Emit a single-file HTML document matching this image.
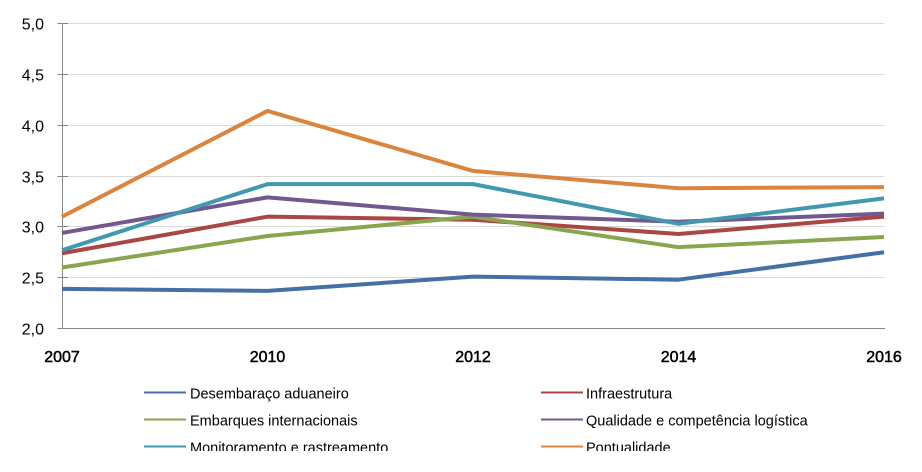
<!DOCTYPE html>
<html lang="pt">
<head>
<meta charset="utf-8">
<title>Gráfico de linhas</title>
<style>
html,body{margin:0;padding:0;background:#fff;}
#chart-wrap{position:relative;width:922px;height:472px;overflow:hidden;background:#fff;}
svg{display:block;}
text{font-family:"Liberation Sans",sans-serif;fill:#000;}
</style>
</head>
<body>
<div id="chart-wrap">
<svg id="chart" width="922" height="472" viewBox="0 0 922 472" xmlns="http://www.w3.org/2000/svg"></svg>
</div>
<script>
const categories = ['2007', '2010', '2012', '2014', '2016'];
const yTicks = [2.0, 2.5, 3.0, 3.5, 4.0, 4.5, 5.0];
const yTickLabels = ['2,0', '2,5', '3,0', '3,5', '4,0', '4,5', '5,0'];
const seriesNames = ['Desembaraço aduaneiro', 'Infraestrutura', 'Embarques internacionais', 'Qualidade e competência logística', 'Monitoramento e rastreamento', 'Pontualidade'];
const desembaraco = [2.39, 2.37, 2.51, 2.48, 2.75];
const infraestrutura = [2.74, 3.10, 3.07, 2.93, 3.10];
const embarques = [2.60, 2.91, 3.10, 2.80, 2.90];
const qualidade = [2.94, 3.29, 3.12, 3.05, 3.13];
const monitoramento = [2.77, 3.42, 3.42, 3.03, 3.28];
const pontualidade = [3.10, 4.14, 3.55, 3.38, 3.39];

const seriesValues = [desembaraco, infraestrutura, embarques, qualidade, monitoramento, pontualidade];
const seriesColors = ['#4470a6', '#aa4643', '#89a54e', '#71588f', '#4198af', '#db843d'];
const seriesSlugs = ['desembaraco', 'infraestrutura', 'embarques', 'qualidade', 'monitoramento', 'pontualidade'];

const NS = 'http://www.w3.org/2000/svg';
const svg = document.getElementById('chart');
const plot = {left: 62, right: 884, top: 23.5, bottom: 328.5};

function xScale(i) {
  return plot.left + (plot.right - plot.left) * i / (categories.length - 1);
}
function yScale(v) {
  return plot.bottom - (v - 2) / 3 * (plot.bottom - plot.top);
}
function make(tag, attrs) {
  const el = document.createElementNS(NS, tag);
  for (const k in attrs) el.setAttribute(k, attrs[k]);
  svg.appendChild(el);
  return el;
}

// gridlines and y ticks
yTicks.forEach(function (t, i) {
  const y = Math.round(yScale(t) - 0.5) + 0.5;
  if (i > 0) {
    const g = make('line', {x1: plot.left, x2: plot.right, y1: y, y2: y, stroke: '#d9d9d9', 'stroke-width': 1});
    
    
  }
  const tick = make('line', {x1: 57.5, x2: 68, y1: y, y2: y, stroke: '#868686', 'stroke-width': 1});
  
  
  const lab = make('text', {x: 44, y: y + 6, 'text-anchor': 'end', 'font-size': 16});
  lab.textContent = yTickLabels[i];
  
  
});

// axes
const yAxis = make('line', {x1: 62.5, x2: 62.5, y1: 23, y2: 329, stroke: '#868686', 'stroke-width': 1});


const xAxis = make('line', {x1: 62, x2: 885, y1: 328.5, y2: 328.5, stroke: '#868686', 'stroke-width': 1});



// x labels
categories.forEach(function (c, i) {
  const lab = make('text', {x: xScale(i), y: 362, 'text-anchor': 'middle', 'font-size': 16, stroke: '#000', 'stroke-width': 0.5});
  lab.textContent = c;
  
  
});

// series
seriesValues.forEach(function (vals, s) {
  const pts = vals.map(function (v, i) { return xScale(i) + ',' + yScale(v).toFixed(2); }).join(' ');
  const line = make('polyline', {points: pts, fill: 'none', stroke: seriesColors[s], 'stroke-width': 4, 'stroke-linejoin': 'round', 'stroke-linecap': 'butt'});
  
  
});

// legend
const legendX = [144, 541];
const legendTextX = [190, 586];
const legendY = [392.5, 419.5, 446.5];
seriesNames.forEach(function (name, s) {
  const col = s % 2;
  const row = Math.floor(s / 2);
  const y = legendY[row];
  const sw = make('line', {x1: legendX[col], x2: legendX[col] + 42, y1: y, y2: y, stroke: seriesColors[s], 'stroke-width': 2});
  
  
  const t = make('text', {x: legendTextX[col], y: y + 6, 'font-size': 14.5});
  t.textContent = name;
  
  
});

// white band that clips the bottom of the last legend row
const mask = make('rect', {x: 0, y: 451, width: 922, height: 21, fill: '#fff'});


</script>
</body>
</html>
